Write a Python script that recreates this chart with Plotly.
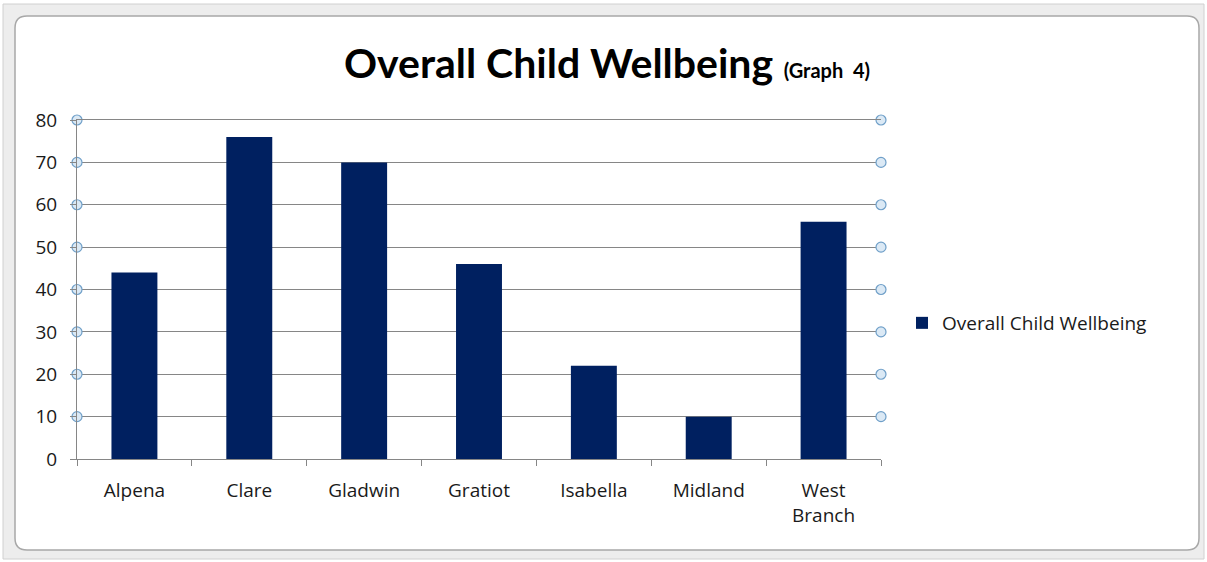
import plotly.graph_objects as go

categories = ["Alpena", "Clare", "Gladwin", "Gratiot", "Isabella", "Midland", "West<br>Branch"]
values = [44, 76, 70, 46, 22, 10, 56]
series_name = "Overall Child Wellbeing"
y_ticks = [0, 10, 20, 30, 40, 50, 60, 70, 80]

W, H = 1207, 562
L, R, T, B = 77, 881, 120, 459


def px(x, y):
    return (x - L) / (R - L), (B - y) / (B - T)


fig = go.Figure()
fig.add_trace(go.Bar(x=categories, y=values, name=series_name,
                     marker=dict(color="#002060", line=dict(width=0)), width=0.4))

# selection handles on gridline ends
hy = y_ticks[1:]
fig.add_trace(go.Scatter(x=[0] * len(hy) + [1] * len(hy), y=hy + hy, xaxis="x2", yaxis="y",
                         mode="markers", showlegend=False, hoverinfo="skip", cliponaxis=False,
                         marker=dict(size=10, color="#dbe9f5", line=dict(color="#6f9fc8", width=1.2))))

shapes = []
# outer band
x0, y0 = px(3, 4); x1, y1 = px(1204, 559)
shapes.append(dict(type="rect", xref="paper", yref="paper", x0=x0, y0=y0, x1=x1, y1=y1,
                   fillcolor="#ededed", line=dict(color="#d0d0d0", width=1), layer="below"))
# inner rounded rect
ax, ay, bx, by, r = 15, 16, 1199, 550, 12
def P(x, y):
    a, b = px(x, y)
    return f"{a:.5f},{b:.5f}"
path = (f"M {P(ax + r, ay)} L {P(bx - r, ay)} Q {P(bx, ay)} {P(bx, ay + r)} "
        f"L {P(bx, by - r)} Q {P(bx, by)} {P(bx - r, by)} L {P(ax + r, by)} "
        f"Q {P(ax, by)} {P(ax, by - r)} L {P(ax, ay + r)} Q {P(ax, ay)} {P(ax + r, ay)} Z")
shapes.append(dict(type="path", xref="paper", yref="paper", path=path,
                   fillcolor="white", line=dict(color="#a8a8a8", width=1.5), layer="below"))

TF = "'Open Sans', Lato, sans-serif"
fig.update_layout(
    width=W, height=H,
    margin=dict(l=L, r=W - R, t=T, b=H - B),
    paper_bgcolor="white", plot_bgcolor="rgba(0,0,0,0)",
    font=dict(family=TF, color="#1a1a1a", size=20),
    title=dict(text="<b>Overall Child Wellbeing</b> <b><span style='font-size:20px'>(Graph&nbsp;&nbsp;4)</span></b>",
               x=607 / W, xanchor="center", y=1 - 64 / H, yanchor="middle",
               font=dict(size=41, color="black", family="Lato, sans-serif")),
    bargap=0.6,
    xaxis=dict(type="category", showgrid=False, showline=True, linecolor="#868686", linewidth=1,
               mirror=True,
               ticks="outside", tickson="boundaries", ticklen=6, tickcolor="#868686",
               ticklabelstandoff=14,
               tickfont=dict(size=19, color="#1a1a1a", family=TF), range=[-0.5, 6.5], fixedrange=True),
    xaxis2=dict(overlaying="x", range=[0, 1], visible=False, fixedrange=True),
    yaxis=dict(range=[0, 80], tickvals=y_ticks, showgrid=True, gridcolor="#868686", gridwidth=1,
               showline=True, linecolor="#868686", linewidth=1, ticks="outside", ticklen=6,
               tickcolor="#868686", ticklabelstandoff=9,
               tickfont=dict(size=19, color="#1a1a1a", family=TF), zeroline=False,
               fixedrange=True),
    legend=dict(x=px(902, 0)[0], y=px(0, 323)[1], xanchor="left", yanchor="middle",
                font=dict(size=19, color="#1a1a1a", family=TF), bgcolor="rgba(0,0,0,0)", itemwidth=30),
    showlegend=True,
    shapes=shapes,
)
fig.write_html("out.html", config={"displayModeBar": False},
               post_script="document.body.style.margin='0px';")
